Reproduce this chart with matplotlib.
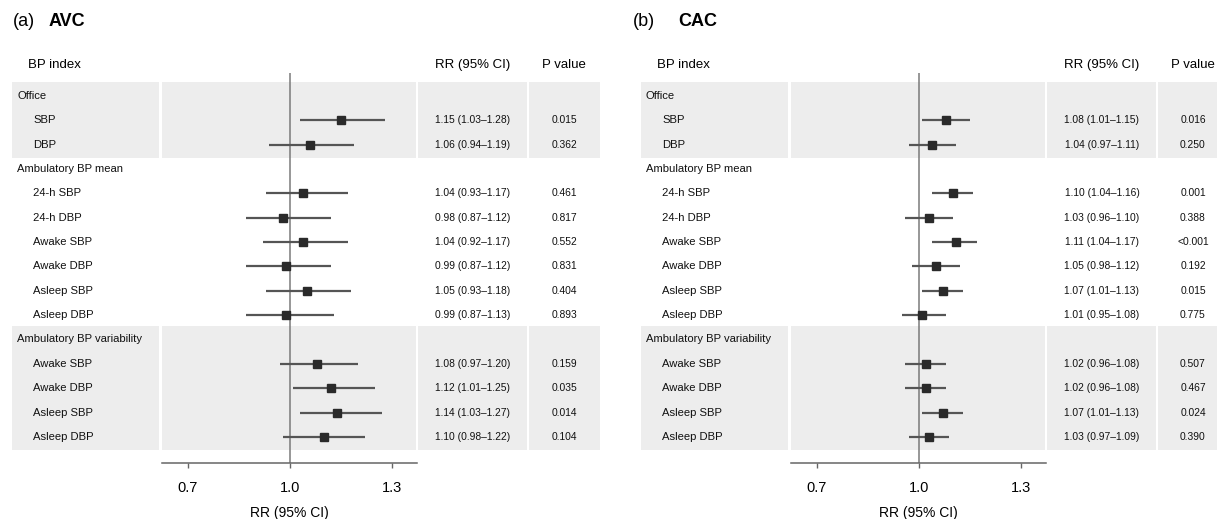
import matplotlib
matplotlib.use("Agg")
import matplotlib.pyplot as plt
import matplotlib.transforms as mtransforms
from matplotlib.patches import Rectangle

plt.rcParams['font.family'] = ['Liberation Sans', 'DejaVu Sans']

W, H = 1217, 519

# row layout: group headers followed by their items
groups = ['Office', 'Ambulatory BP mean', 'Ambulatory BP variability']
group_items = [
    ['SBP', 'DBP'],
    ['24-h SBP', '24-h DBP', 'Awake SBP', 'Awake DBP', 'Asleep SBP', 'Asleep DBP'],
    ['Awake SBP', 'Awake DBP', 'Asleep SBP', 'Asleep DBP'],
]
shaded_groups = [0, 2]

# (a) AVC
avc_rr = [1.15, 1.06, 1.04, 0.98, 1.04, 0.99, 1.05, 0.99, 1.08, 1.12, 1.14, 1.10]
avc_lo = [1.03, 0.94, 0.93, 0.87, 0.92, 0.87, 0.93, 0.87, 0.97, 1.01, 1.03, 0.98]
avc_hi = [1.28, 1.19, 1.17, 1.12, 1.17, 1.12, 1.18, 1.13, 1.20, 1.25, 1.27, 1.22]
avc_p = ['0.015', '0.362', '0.461', '0.817', '0.552', '0.831', '0.404', '0.893',
         '0.159', '0.035', '0.014', '0.104']

# (b) CAC
cac_rr = [1.08, 1.04, 1.10, 1.03, 1.11, 1.05, 1.07, 1.01, 1.02, 1.02, 1.07, 1.03]
cac_lo = [1.01, 0.97, 1.04, 0.96, 1.04, 0.98, 1.01, 0.95, 0.96, 0.96, 1.01, 0.97]
cac_hi = [1.15, 1.11, 1.16, 1.10, 1.17, 1.12, 1.13, 1.08, 1.08, 1.08, 1.13, 1.09]
cac_p = ['0.016', '0.250', '0.001', '0.388', '<0.001', '0.192', '0.015', '0.775',
         '0.507', '0.467', '0.024', '0.390']

xticks = [0.7, 1.0, 1.3]

BAND = '#ededed'
INK = '#111111'


def fx(px):
    return px / W


def fy(py):
    return 1 - py / H


def draw_panel(fig, off, tag, name, rr, lo, hi, pvals):
    # forest plot axes, rows as y data (row 0 at top)
    ax = fig.add_axes([fx(162 + off), fy(463), fx(255), (463 - 73) / H])
    ax.set_xlim(0.624, 1.374)
    ax.set_ylim(15.07, -0.94)
    ax.patch.set_visible(False)
    for s in ['top', 'right', 'left']:
        ax.spines[s].set_visible(False)
    ax.spines['bottom'].set_color('#666666')
    ax.spines['bottom'].set_linewidth(1.1)
    ax.set_yticks([])
    ax.set_xticks(xticks)
    ax.set_xticklabels(['%.1f' % t for t in xticks], fontsize=10.5)
    ax.tick_params(axis='x', length=3.6, width=1.0, color='#666666', pad=9.5)
    ax.set_xlabel('RR (95% CI)', fontsize=10, labelpad=8)
    ax.axvline(1.0, color='#7a7a7a', lw=1.1, zorder=1)

    tr = mtransforms.blended_transform_factory(fig.transFigure, ax.transData)

    # headline and column headers
    fig.text(fx(13 + off - (9 if off else 0)), fy(21), tag, fontsize=13, va='center')
    fig.text(fx(49 + off), fy(21), name, fontsize=13, fontweight='bold', va='center')
    fig.text(fx(28 + off), fy(65), 'BP index', fontsize=9.5, va='center')
    fig.text(fx(473 + off), fy(65), 'RR (95% CI)', fontsize=9.5, va='center', ha='center')
    fig.text(fx(564 + off), fy(65), 'P value', fontsize=9.5, va='center', ha='center')

    cols = [(12, 159), (162, 416), (418, 527), (529, 600)]

    row = 0
    k = 0
    for g, items in enumerate(group_items):
        first = row
        last = row + len(items)
        if g in shaded_groups:
            for c0, c1 in cols:
                right = min(c1 + off, W)
                fig.add_artist(Rectangle((fx(c0 + off), first - 0.57), fx(right - c0 - off),
                                         last - first + 1.1, transform=tr, facecolor=BAND,
                                         edgecolor='none', zorder=-1))
        fig.text(fx(17 + off), row, groups[g], transform=tr, fontsize=8.1,
                 va='center', color=INK)
        row += 1
        for item in items:
            fig.text(fx(33 + off), row, item, transform=tr, fontsize=8.1,
                     va='center', color=INK)
            ax.plot([lo[k], hi[k]], [row, row], color='#555555', lw=1.6,
                    solid_capstyle='butt', zorder=3)
            ax.plot(rr[k], row, marker='s', ms=5.4, color='#2a2a2a', zorder=4)
            fig.text(fx(473 + off), row, '%.2f (%.2f\u2013%.2f)' % (rr[k], lo[k], hi[k]),
                     transform=tr, fontsize=7.4, va='center', ha='center', color=INK)
            fig.text(fx(564 + off), row, pvals[k], transform=tr, fontsize=7.4,
                     va='center', ha='center', color=INK)
            row += 1
            k += 1
    return ax


fig = plt.figure(figsize=(W / 100, H / 100), dpi=100)
draw_panel(fig, 0, '(a)', 'AVC', avc_rr, avc_lo, avc_hi, avc_p)
draw_panel(fig, 629, '(b)', 'CAC', cac_rr, cac_lo, cac_hi, cac_p)
fig.savefig('out.png', dpi=100)
